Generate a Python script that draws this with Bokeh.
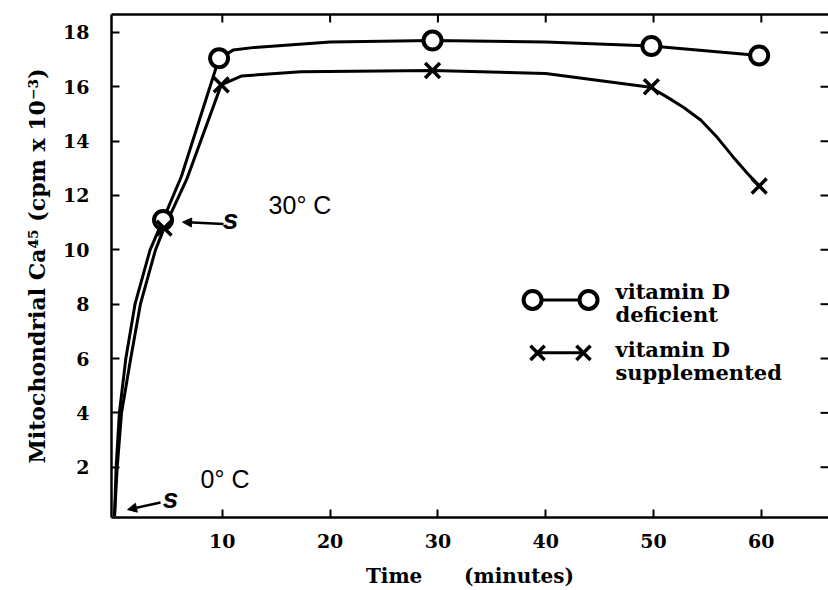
import math
from bokeh.plotting import figure
from bokeh.models import Range1d, FixedTicker, LinearAxis, Label, Arrow, NormalHead
from bokeh.embed import file_html
from bokeh.resources import INLINE

# ---- data ----
x_ticks = [10, 20, 30, 40, 50, 60]
y_ticks = [2, 4, 6, 8, 10, 12, 14, 16, 18]

# measured points
def_time = [4.5, 9.7, 29.5, 49.8, 59.8]
def_ca = [11.1, 17.05, 17.7, 17.5, 17.15]
sup_time = [4.6, 9.9, 29.5, 49.8, 59.8]
sup_ca = [10.8, 16.07, 16.6, 16.0, 12.35]

# drawn curves
def_curve_time = [0, 0.15, 0.45, 1.05, 1.9, 3.3, 4.5, 6.2, 9.7, 11.0, 13.0, 20.0, 29.5, 40.0, 49.8, 59.8]
def_curve_ca = [0.2, 2.0, 4.0, 6.0, 8.0, 10.0, 11.1, 12.7, 17.05, 17.35, 17.45, 17.65, 17.7, 17.65, 17.5, 17.15]
sup_curve_time = [0, 0.25, 0.65, 1.5, 2.4, 3.8, 4.6, 6.7, 9.9, 11.8, 17.3, 29.5, 40.0, 49.7,
                  51.3, 52.8, 54.4, 55.9, 57.4, 58.7, 59.8]
sup_curve_ca = [0.2, 2.0, 4.0, 6.0, 8.0, 10.0, 10.8, 12.6, 16.07, 16.4, 16.55, 16.6, 16.49, 15.98,
                15.61, 15.24, 14.77, 14.14, 13.41, 12.82, 12.35]

SERIF = "DejaVu Serif"
SANS = "Liberation Sans"
X_MIN, X_MAX = -0.28, 66.23
Y_MIN, Y_MAX = 0.15, 18.66

p = figure(width=828, height=590, x_range=Range1d(X_MIN, X_MAX), y_range=Range1d(Y_MIN, Y_MAX),
           output_backend="svg", toolbar_location=None,
           min_border_left=111, min_border_right=0, min_border_top=14, min_border_bottom=72)
p.xgrid.visible = False
p.ygrid.visible = False
p.outline_line_color = None
p.background_fill_color = "white"
p.border_fill_color = "white"

for ax in (p.xaxis[0], p.yaxis[0]):
    ax.axis_line_width = 2.5
    ax.axis_line_color = "black"
    ax.major_tick_line_width = 2
    ax.major_tick_in = 8
    ax.major_tick_out = 0
    ax.minor_tick_line_color = None
    ax.major_label_text_font = SERIF
    ax.major_label_text_font_style = "bold"
    ax.major_label_text_font_size = "19px"
    ax.major_label_text_color = "black"
    ax.axis_label_text_font = SERIF
    ax.axis_label_text_font_style = "bold"
    ax.axis_label_text_color = "black"

p.xaxis[0].ticker = FixedTicker(ticks=x_ticks)
p.yaxis[0].ticker = FixedTicker(ticks=y_ticks)
p.xaxis[0].major_label_standoff = 16
p.yaxis[0].major_label_standoff = 22
p.xaxis[0].axis_label = "Time" + "\u00a0" * 6 + "(minutes)"
p.xaxis[0].axis_label_text_font_size = "20px"
p.xaxis[0].axis_label_standoff = 13
p.yaxis[0].axis_label = "Mitochondrial Ca\u2074\u2075 (cpm x 10\u207b\u00b3)"
p.yaxis[0].axis_label_text_font_size = "22px"
p.yaxis[0].axis_label_standoff = 10

# top frame line (no ticks / labels of its own)
top_ax = LinearAxis(ticker=FixedTicker(ticks=[]), major_tick_in=0, major_tick_out=0,
                    minor_tick_line_color=None, axis_line_width=2.5)
p.add_layout(top_ax, "above")

# inward ticks on top and right edges (clipped to the frame)
p.scatter(x_ticks, [Y_MAX] * len(x_ticks), marker="dash", angle=math.pi / 2, size=16,
          line_color="black", line_width=2)
p.scatter([X_MAX] * len(y_ticks), y_ticks, marker="dash", size=16, line_color="black", line_width=2)

# curves
p.line(def_curve_time, def_curve_ca, line_color="black", line_width=3)
p.line(sup_curve_time, sup_curve_ca, line_color="black", line_width=3)
p.scatter(def_time, def_ca, marker="circle", size=18, fill_color="white", line_color="black", line_width=4)
p.scatter(sup_time, sup_ca, marker="x", size=21, line_color="black", line_width=3.5)

# legend (manual)
p.line([38.78, 43.97], [8.157, 8.157], line_color="black", line_width=3)
p.scatter([38.78, 43.97], [8.157, 8.157], marker="circle", size=18, fill_color="white",
          line_color="black", line_width=4)
p.line([39.24, 43.5], [6.21, 6.21], line_color="black", line_width=3)
p.scatter([39.24, 43.5], [6.21, 6.21], marker="x", size=20, line_color="black", line_width=3.5)
for txt, yy in [("vitamin D", 8.45), ("deficient", 7.62), ("vitamin D", 6.32), ("supplemented", 5.49)]:
    p.add_layout(Label(x=46.47, y=yy, text=txt, text_font=SERIF, text_font_style="bold",
                       text_font_size="21px", text_baseline="middle", text_color="black"))

# temperature annotations
p.add_layout(Label(x=14.29, y=11.65, text="30\u00b0 C", text_font=SANS, text_font_size="25px",
                   text_baseline="middle", text_color="black"))
p.add_layout(Label(x=7.98, y=1.55, text="0\u00b0 C", text_font=SANS, text_font_size="25px",
                   text_baseline="middle", text_color="black"))

# hand-drawn arrows
p.add_layout(Arrow(end=NormalHead(size=9, fill_color="black", line_color="black"),
                   x_start=10.11, y_start=10.95, x_end=6.31, y_end=11.02, line_width=2.5))
p.add_layout(Arrow(end=NormalHead(size=9, fill_color="black", line_color="black"),
                   x_start=4.27, y_start=0.70, x_end=1.21, y_end=0.44, line_width=2.5))
for sx, sy in [(10.76, 11.13), (5.19, 0.85)]:
    p.add_layout(Label(x=sx, y=sy, text="s", text_font=SANS, text_font_style="bold italic",
                       text_font_size="28px", text_baseline="middle", text_align="center",
                       text_color="black"))

open("out.html", "w").write(file_html(p, INLINE))
